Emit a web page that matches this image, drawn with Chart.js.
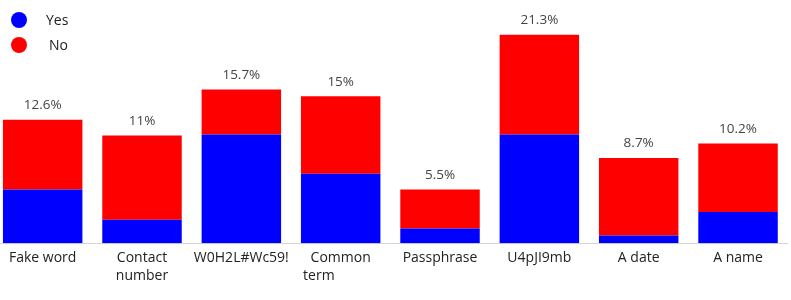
<!DOCTYPE html>
<html lang="en">
<head>
<meta charset="UTF-8">
<title>Yes / No by password type</title>
<script src="https://cdn.jsdelivr.net/npm/chart.js"></script>
<style>
    body { margin: 0; background: #fff; }
    #wrap { position: relative; width: 791px; height: 300px; overflow: hidden; }
    #myBarChart { position: absolute; left: -7px; top: 0; }
    #legend { position: absolute; left: 0; top: 0; font-family: 'Open Sans', sans-serif; font-size: 14px; color: #222; }
    .item { position: absolute; white-space: nowrap; }
    .dot { position: absolute; width: 16px; height: 16px; border-radius: 50%; }
</style>
</head>
<body>
<div id="wrap">
    <canvas id="myBarChart" width="798" height="300"></canvas>
    <div id="legend">
        <span class="dot" style="left:11px; top:12px; background:#0000ff"></span>
        <span class="item" style="left:46px; top:10px">Yes</span>
        <span class="dot" style="left:11px; top:37px; background:#ff0000"></span>
        <span class="item" style="left:49px; top:35px">No</span>
    </div>
</div>
<script>
// data
var categories = ['Fake word', ['Contact', 'number'], 'W0H2L#Wc59!', ['Common', 'term            '],
    'Passphrase', 'U4pJI9mb', 'A date', 'A name'];
var yesValues = [5.5, 2.4, 11.1, 7.1, 1.5, 11.1, 0.8, 3.2];
var noValues = [7.1, 8.6, 4.6, 7.9, 4.0, 10.2, 7.9, 7.0];

// total on top of each stack
var totalsPlugin = {
    id: 'totals',
    afterDatasetsDraw: function (chart) {
        var ctx = chart.ctx;
        var meta = chart.getDatasetMeta(1);
        ctx.save();
        ctx.font = '13.5px "Open Sans", sans-serif';
        ctx.fillStyle = '#444';
        ctx.textAlign = 'center';
        ctx.textBaseline = 'middle';
        meta.data.forEach(function (bar, i) {
            var total = Math.round((yesValues[i] + noValues[i]) * 10) / 10;
            ctx.fillText(total + '%', bar.x, bar.y - 14.5);
        });
        ctx.restore();
    }
};

var ctx = document.getElementById('myBarChart').getContext('2d');
var myBarChart = new Chart(ctx, {
    type: 'bar',
    data: {
        labels: categories,
        datasets: [{
            label: 'Yes',
            data: yesValues,
            backgroundColor: '#0000ff'
        }, {
            label: 'No',
            data: noValues,
            backgroundColor: '#ff0000'
        }]
    },
    options: {
        responsive: false,
        animation: false,
        layout: { padding: { left: 0, right: 3.3, top: 18, bottom: 0 } },
        categoryPercentage: 0.8,
        barPercentage: 1,
        plugins: {
            legend: { display: false },
            tooltip: { enabled: false }
        },
        scales: {
            x: {
                stacked: true,
                grid: { display: false, drawTicks: false },
                border: { display: true, color: '#d4d4d4', width: 1 },
                ticks: {
                    maxRotation: 0,
                    autoSkip: false,
                    padding: 6,
                    color: '#222',
                    font: { family: 'Open Sans', size: 14, lineHeight: 1.29 }
                },
                afterFit: function (scale) { scale.height = 56.7; }
            },
            y: {
                stacked: true,
                display: false,
                min: 0,
                max: 23
            }
        }
    },
    plugins: [totalsPlugin]
});
</script>
</body>
</html>
